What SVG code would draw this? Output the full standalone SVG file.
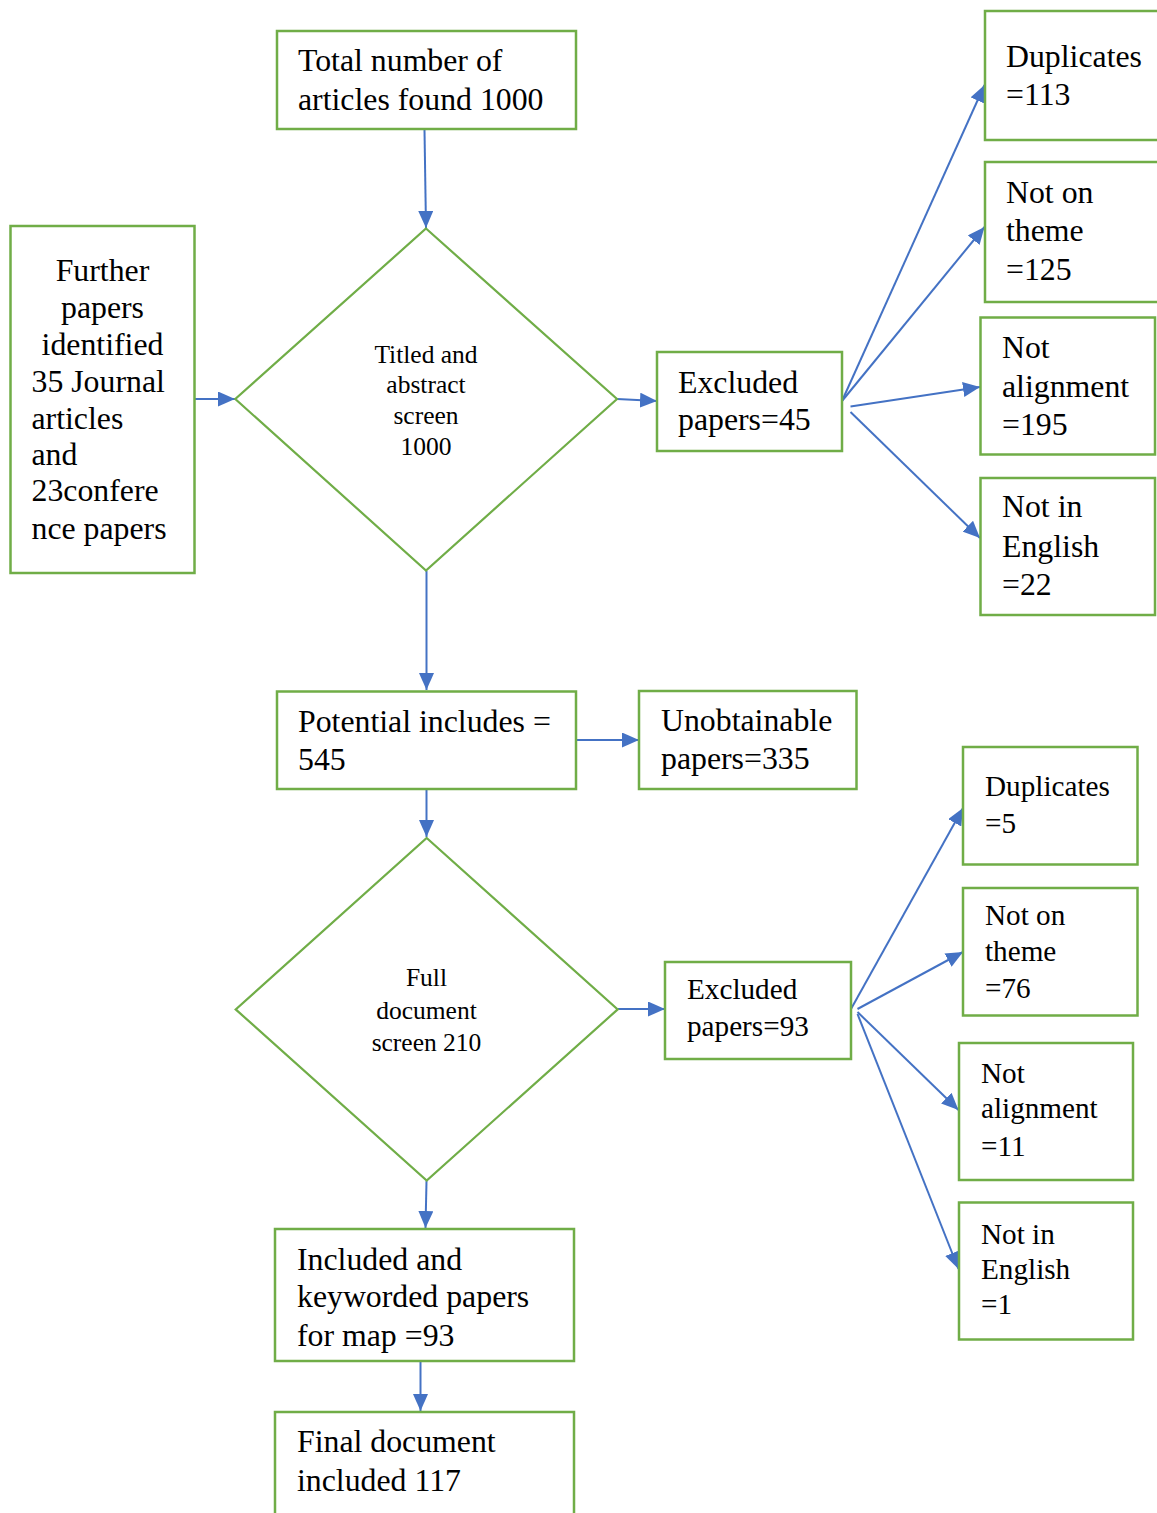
<svg xmlns="http://www.w3.org/2000/svg" width="1157" height="1513" viewBox="0 0 1157 1513">
<style>
.box{fill:#fff;stroke:#70AD47;stroke-width:2.5}
.dia{fill:#fff;stroke:#70AD47;stroke-width:2.2}
.con{stroke:#4472C4;stroke-width:2;fill:none;marker-end:url(#ah)}
text{font-family:"Liberation Serif","Times New Roman",serif;fill:#000;font-size:31.8px}
.s{font-size:29.2px}
.d{font-size:25.5px;text-anchor:middle}
.c{text-anchor:middle}
</style>
<defs>
<marker id="ah" markerUnits="userSpaceOnUse" markerWidth="17" markerHeight="15" refX="17" refY="7.5" orient="auto">
<path d="M0,0 L17,7.5 L0,15 z" fill="#4472C4"/>
</marker>
</defs>
<rect width="1157" height="1513" fill="#fff"/>
<g id="connectors">
<line class="con" x1="424.5" y1="130" x2="426" y2="228"/>
<line class="con" x1="195" y1="399" x2="235" y2="399"/>
<line class="con" x1="617" y1="399" x2="657" y2="401"/>
<line class="con" x1="842" y1="401" x2="984.5" y2="85"/>
<line class="con" x1="842" y1="401" x2="984.5" y2="227"/>
<line class="con" x1="850.5" y1="406.5" x2="980" y2="387"/>
<line class="con" x1="850.5" y1="412" x2="980" y2="538"/>
<line class="con" x1="426.5" y1="571" x2="426.5" y2="690"/>
<line class="con" x1="576" y1="740" x2="639" y2="740"/>
<line class="con" x1="426.5" y1="789" x2="426.5" y2="837"/>
<line class="con" x1="618" y1="1009" x2="665" y2="1009"/>
<line class="con" x1="851" y1="1009" x2="963" y2="808"/>
<line class="con" x1="857.5" y1="1009" x2="963" y2="952"/>
<line class="con" x1="857.5" y1="1012" x2="958.5" y2="1110"/>
<line class="con" x1="857.5" y1="1014" x2="958.5" y2="1269"/>
<line class="con" x1="426.5" y1="1181" x2="425.5" y2="1228"/>
<line class="con" x1="420.5" y1="1361" x2="420.5" y2="1411"/>
</g>
<g id="total">
<rect class="box" x="277" y="31" width="299" height="98"/>
<text x="298" y="71">Total number of</text>
<text x="298" y="110">articles found 1000</text>
</g>
<g id="further">
<rect class="box" x="10.5" y="226" width="184" height="347"/>
<text class="c" x="102.5" y="281">Further</text>
<text class="c" x="102.5" y="318">papers</text>
<text class="c" x="102.5" y="355">identified</text>
<text x="31.5" y="392">35 Journal</text>
<text x="31.5" y="429">articles</text>
<text x="31.5" y="465">and</text>
<text x="31.5" y="501">23confere</text>
<text x="31.5" y="539">nce papers</text>
</g>
<g id="screen1">
<polygon class="dia" points="426,228.5 617,399 426,570.5 235.3,399"/>
<text class="d" x="426" y="363">Titled and</text>
<text class="d" x="426" y="393">abstract</text>
<text class="d" x="426" y="424">screen</text>
<text class="d" x="426" y="455">1000</text>
</g>
<g id="excluded45">
<rect class="box" x="657" y="352" width="185" height="99"/>
<text x="678" y="393">Excluded</text>
<text x="678" y="430">papers=45</text>
</g>
<g id="dup113">
<rect class="box" x="985" y="11" width="190" height="129"/>
<text x="1006" y="67">Duplicates</text>
<text x="1006" y="105">=113</text>
</g>
<g id="theme125">
<rect class="box" x="985" y="162" width="190" height="140"/>
<text x="1006" y="202.5">Not on</text>
<text x="1006" y="241">theme</text>
<text x="1006" y="280">=125</text>
</g>
<g id="align195">
<rect class="box" x="980.5" y="317.5" width="174.5" height="137"/>
<text x="1002" y="358">Not</text>
<text x="1002" y="396.5">alignment</text>
<text x="1002" y="435">=195</text>
</g>
<g id="english22">
<rect class="box" x="980.5" y="478" width="174.5" height="137"/>
<text x="1002" y="517">Not in</text>
<text x="1002" y="556.5">English</text>
<text x="1002" y="595">=22</text>
</g>
<g id="potential">
<rect class="box" x="277" y="691.5" width="299" height="97.5"/>
<text x="298" y="731.5">Potential includes =</text>
<text x="298" y="770">545</text>
</g>
<g id="unobtainable">
<rect class="box" x="639" y="691" width="217.5" height="98"/>
<text x="661" y="731">Unobtainable</text>
<text x="661" y="769">papers=335</text>
</g>
<g id="screen2">
<polygon class="dia" points="426.7,838 617.7,1009.4 426.7,1180.5 235.7,1009.4"/>
<text class="d" x="426.5" y="985.5">Full</text>
<text class="d" x="426.5" y="1018.5">document</text>
<text class="d" x="426.5" y="1051">screen 210</text>
</g>
<g id="excluded93">
<rect class="box" x="665" y="962" width="186" height="97"/>
<text class="s" x="687" y="999">Excluded</text>
<text class="s" x="687" y="1036">papers=93</text>
</g>
<g id="dup5">
<rect class="box" x="963" y="747" width="174.5" height="117.5"/>
<text class="s" x="985" y="796">Duplicates</text>
<text class="s" x="985" y="833">=5</text>
</g>
<g id="theme76">
<rect class="box" x="963" y="888" width="174.5" height="127.5"/>
<text class="s" x="985" y="925">Not on</text>
<text class="s" x="985" y="961">theme</text>
<text class="s" x="985" y="998">=76</text>
</g>
<g id="align11">
<rect class="box" x="959" y="1043" width="174" height="137"/>
<text class="s" x="981" y="1082.5">Not</text>
<text class="s" x="981" y="1117.5">alignment</text>
<text class="s" x="981" y="1156">=11</text>
</g>
<g id="english1">
<rect class="box" x="959" y="1202.5" width="174" height="137"/>
<text class="s" x="981" y="1244">Not in</text>
<text class="s" x="981" y="1279">English</text>
<text class="s" x="981" y="1314">=1</text>
</g>
<g id="included">
<rect class="box" x="275" y="1229" width="299" height="132"/>
<text x="297" y="1270">Included and</text>
<text x="297" y="1307">keyworded papers</text>
<text x="297" y="1346">for map =93</text>
</g>
<g id="final">
<rect class="box" x="275" y="1412" width="299" height="120"/>
<text x="297" y="1452">Final document</text>
<text x="297" y="1491">included 117</text>
</g>
</svg>
